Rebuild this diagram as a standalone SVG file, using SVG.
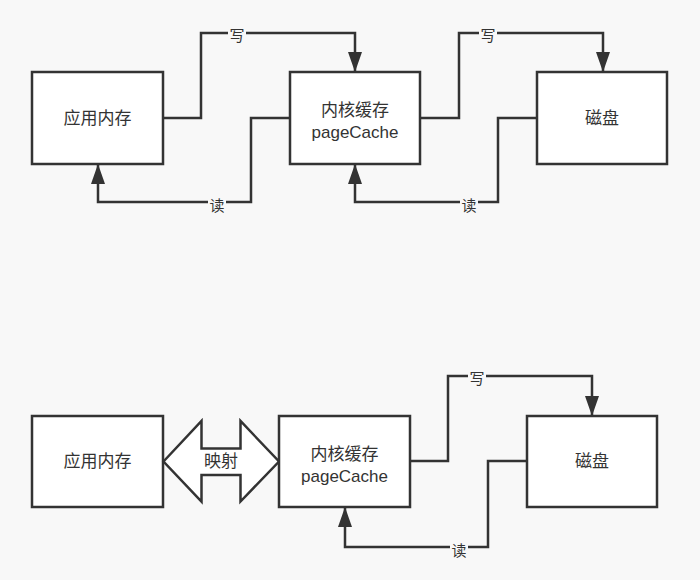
<svg xmlns="http://www.w3.org/2000/svg" width="700" height="580" viewBox="0 0 700 580">
<defs>
<style>
.box{fill:#ffffff;stroke:#333333;stroke-width:2.5}
.t{font-family:"Liberation Sans","Noto Sans CJK SC",sans-serif;font-size:17px;fill:#333333;text-anchor:middle}
.lbl{font-family:"Liberation Sans","Noto Sans CJK SC",sans-serif;font-size:15px;fill:#333333;text-anchor:middle}
.edge{fill:none;stroke:#333333;stroke-width:2.5}
.lb{fill:#f8f8f8}
</style>
<marker id="ah" markerUnits="userSpaceOnUse" markerWidth="20" markerHeight="14" refX="20" refY="7" orient="auto">
<path d="M0,0 L20,7 L0,14 z" fill="#333333"/>
</marker>
</defs>
<rect width="700" height="580" fill="#f8f8f8"/>
<g id="connectors">
<path class="edge" d="M163,118 H201 V33 H355 V72" marker-end="url(#ah)"/>
<path class="edge" d="M290,118 H251 V202 H98 V164" marker-end="url(#ah)"/>
<path class="edge" d="M420,118 H459 V33 H603 V72" marker-end="url(#ah)"/>
<path class="edge" d="M537,118 H498 V202 H355 V164" marker-end="url(#ah)"/>
<path class="edge" d="M410,461 H448 V376 H592 V416" marker-end="url(#ah)"/>
<path class="edge" d="M527,461 H488 V547 H345 V507" marker-end="url(#ah)"/>
<rect class="lb" x="228" y="26" width="18" height="18"/>
<text class="lbl" x="237" y="41">写</text>
<rect class="lb" x="208" y="196" width="18" height="18"/>
<text class="lbl" x="217" y="211">读</text>
<rect class="lb" x="479" y="26" width="18" height="18"/>
<text class="lbl" x="488" y="41">写</text>
<rect class="lb" x="460" y="196" width="18" height="18"/>
<text class="lbl" x="469" y="211">读</text>
<rect class="lb" x="468" y="369" width="18" height="18"/>
<text class="lbl" x="477" y="384">写</text>
<rect class="lb" x="450" y="541" width="18" height="18"/>
<text class="lbl" x="459" y="556">读</text>
</g>
<g id="app-mem-top">
<rect class="box" x="32" y="72" width="131" height="92"/>
<text class="t" x="97.5" y="124">应用内存</text>
</g>
<g id="pagecache-top">
<rect class="box" x="290" y="72" width="130" height="92"/>
<text class="t" x="355" y="116">内核缓存</text>
<text class="t" x="355" y="138">pageCache</text>
</g>
<g id="disk-top">
<rect class="box" x="537" y="72" width="130" height="92"/>
<text class="t" x="602" y="124">磁盘</text>
</g>
<g id="app-mem-bottom">
<rect class="box" x="32" y="416" width="131" height="91"/>
<text class="t" x="97.5" y="467">应用内存</text>
</g>
<g id="mapping">
<path d="M163.5,461.5 L201.5,421 V448.5 H240.5 V421 L279,461.5 L240.5,501.5 V475 H201.5 V501.5 Z" fill="#ffffff" stroke="#333333" stroke-width="2.5" stroke-linejoin="miter"/>
<text class="t" x="221" y="467">映射</text>
</g>
<g id="pagecache-bottom">
<rect class="box" x="279" y="416" width="131" height="91"/>
<text class="t" x="344.5" y="460">内核缓存</text>
<text class="t" x="344.5" y="482">pageCache</text>
</g>
<g id="disk-bottom">
<rect class="box" x="527" y="416" width="130" height="91"/>
<text class="t" x="592" y="467">磁盘</text>
</g>
</svg>
